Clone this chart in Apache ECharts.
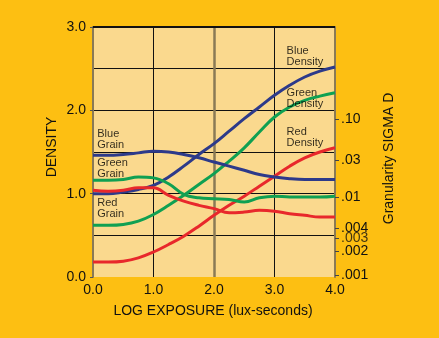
<!DOCTYPE html>
<html>
<head>
<meta charset="utf-8">
<script src="https://cdn.jsdelivr.net/npm/echarts@6/dist/echarts.min.js"></script>
<style>
  html, body { margin: 0; padding: 0; background: #FDBF12; }
  #chart { width: 439px; height: 338px; }
</style>
</head>
<body>
<div id="chart"></div>
<script>
// Log exposure (lux-seconds) sample points
const logExposure = [0, 0.25, 0.5, 0.75, 1.0, 1.25, 1.5, 1.75, 2.0, 2.25, 2.5, 2.75, 3.0, 3.25, 3.5, 3.75, 4.0];

// Characteristic curves (density)
const blueDensity  = [1.00, 1.00, 1.02, 1.05, 1.10, 1.20, 1.33, 1.47, 1.60, 1.75, 1.90, 2.04, 2.18, 2.30, 2.40, 2.47, 2.52];
const greenDensity = [0.62, 0.62, 0.63, 0.67, 0.75, 0.86, 0.98, 1.11, 1.24, 1.39, 1.55, 1.74, 1.92, 2.04, 2.12, 2.17, 2.21];
const redDensity   = [0.18, 0.18, 0.19, 0.23, 0.30, 0.39, 0.49, 0.61, 0.74, 0.86, 0.97, 1.09, 1.21, 1.33, 1.43, 1.50, 1.55];

// Granularity (sigma D)
const blueGrain  = [0.0342, 0.0342, 0.0351, 0.0368, 0.0387, 0.0378, 0.0351, 0.0318, 0.0281, 0.0249, 0.0220, 0.0194, 0.0181, 0.0172, 0.0168, 0.0168, 0.0168];
const greenGrain = [0.0164, 0.0164, 0.0168, 0.0181, 0.0176, 0.0148, 0.0108, 0.00976, 0.00952, 0.00929, 0.00863, 0.00976, 0.01025, 0.0100, 0.0100, 0.0100, 0.01025];
const redGrain   = [0.01218, 0.01188, 0.01218, 0.01311, 0.01311, 0.01050, 0.00884, 0.00782, 0.00709, 0.00627, 0.00642, 0.00675, 0.00658, 0.00612, 0.00582, 0.00554, 0.00554];

// Granularity axis ticks; .003 sits so close to .004 that it is drawn as a separate label
const sigmaTicks = [0.001, 0.002, 0.003, 0.004, 0.01, 0.03, 0.10];
const sigmaTickLabels = ['.001', '.002', '.003', '.004', '.01', '.03', '.10'];
const sigmaCrowded = [0.003];

// Curve captions: text and anchor (log exposure, density)
const noteText = ['Blue\nGrain', 'Green\nGrain', 'Red\nGrain', 'Blue\nDensity', 'Green\nDensity', 'Red\nDensity'];
const noteX = [0.07, 0.07, 0.07, 3.20, 3.20, 3.20];
const noteY = [1.654, 1.30, 0.818, 2.65, 2.14, 1.674];

const FONT = '"Liberation Sans", Arial, Helvetica, sans-serif';
const INK = '#111111';
const FRAME = '#8A7A55';
const BLUE = '#2D3A8A', GREEN = '#0FA052', RED = '#E8282B';

const pairs = (xs, ys) => xs.map((x, i) => [x, ys[i]]);
const logPairs = (xs, ys) => xs.map((x, i) => [x, Math.log10(ys[i])]);
const sigmaLogs = sigmaTicks.map(v => Math.log10(v));
const crowdedLogs = sigmaCrowded.map(v => Math.log10(v));
const mainLabelLogs = sigmaLogs.filter(v => !crowdedLogs.some(c => Math.abs(c - v) < 1e-9));
// nearest tick label for an axis value (tolerant of rounding inside the scale)
const sigmaLabel = v => {
  let best = -1, bestDist = 0.03;
  sigmaLogs.forEach((s, i) => {
    const d = Math.abs(s - v);
    if (d < bestDist) { bestDist = d; best = i; }
  });
  return best >= 0 ? sigmaTickLabels[best] : '';
};
const SIGMA_MIN = Math.log10(0.001) - 2 / 78;
const SIGMA_MAX = 0.18;
const X_MAX = logExposure[logExposure.length - 1];

const chart = echarts.init(document.getElementById('chart'), null, { renderer: 'canvas' });

const curve = (name, data, color, yAxisIndex) => ({
  name, type: 'line', data, yAxisIndex,
  smooth: 0.4, showSymbol: false, silent: true, z: 3,
  lineStyle: { color, width: 3 }
});

const option = {
  backgroundColor: '#FDBF12',
  animation: false,
  textStyle: { fontFamily: FONT },
  grid: {
    left: 93, top: 27, width: 242, height: 250,
    show: true, backgroundColor: '#FAD98E', borderWidth: 0
  },
  xAxis: {
    type: 'value', min: 0, max: 4, interval: 1,
    axisLine: { show: false },
    axisTick: { show: false },
    axisLabel: { formatter: v => v.toFixed(1), margin: 6, fontSize: 14, color: INK, fontFamily: FONT },
    splitLine: { show: true, showMinLine: false, showMaxLine: false, lineStyle: { color: INK, width: 1 } }
  },
  yAxis: [
    {
      type: 'value', min: 0, max: 3, interval: 1, position: 'left',
      axisLine: { show: true, lineStyle: { color: FRAME, width: 2 } },
      axisTick: { show: true, length: 3, lineStyle: { color: '#555', width: 1 } },
      axisLabel: { formatter: v => v.toFixed(1), margin: 7, fontSize: 14, color: INK, fontFamily: FONT },
      splitLine: { show: true, showMinLine: false, lineStyle: { color: INK, width: 1 } },
      minorTick: { show: false, splitNumber: 2 },
      minorSplitLine: { show: true, lineStyle: { color: INK, width: 1 } }
    },
    {
      type: 'value', position: 'right', min: SIGMA_MIN, max: SIGMA_MAX,
      axisLine: { show: true, lineStyle: { color: FRAME, width: 2 } },
      axisTick: { show: true, length: 4, customValues: sigmaLogs, lineStyle: { color: '#444', width: 1 } },
      axisLabel: {
        customValues: mainLabelLogs, hideOverlap: false, margin: 6, fontSize: 14, color: INK, fontFamily: FONT,
        formatter: sigmaLabel
      },
      splitLine: { show: false }
    }
  ],
  graphic: [
    { type: 'text', x: 52, y: 147, rotation: Math.PI / 2,
      style: { text: 'DENSITY', fontSize: 14, fontFamily: FONT, fill: INK, textAlign: 'center', textVerticalAlign: 'middle', align: 'center', verticalAlign: 'middle' } },
    { type: 'text', x: 389, y: 158.5, rotation: Math.PI / 2,
      style: { text: 'Granularity SIGMA D', fontSize: 14, fontFamily: FONT, fill: INK, textAlign: 'center', textVerticalAlign: 'middle', align: 'center', verticalAlign: 'middle' } },
    { type: 'text', x: 213, y: 311,
      style: { text: 'LOG EXPOSURE (lux-seconds)', fontSize: 14, fontFamily: FONT, fill: INK, textAlign: 'center', textVerticalAlign: 'middle', align: 'center', verticalAlign: 'middle' } }
  ],
  series: [
    Object.assign(curve('Blue Density', pairs(logExposure, blueDensity), BLUE, 0), {
      markLine: {
        silent: true, symbol: 'none', z: 1, animation: false,
        label: { show: false },
        lineStyle: { color: FRAME, width: 2.5, type: 'solid' },
        data: [
          { xAxis: 2 },
          { yAxis: 3, lineStyle: { color: INK, width: 2, type: 'solid' } }
        ]
      }
    }),
    curve('Green Density', pairs(logExposure, greenDensity), GREEN, 0),
    curve('Red Density', pairs(logExposure, redDensity), RED, 0),
    curve('Blue Grain', logPairs(logExposure, blueGrain), BLUE, 1),
    curve('Green Grain', logPairs(logExposure, greenGrain), GREEN, 1),
    curve('Red Grain', logPairs(logExposure, redGrain), RED, 1),
    {
      // crowded granularity tick label, placed on the right axis through its scale
      name: 'sigma-crowded', type: 'scatter', yAxisIndex: 1, symbolSize: 0, silent: true, z: 5,
      data: crowdedLogs.map(v => ({ value: [X_MAX, v] })),
      label: {
        show: true, position: 'right', distance: 6,
        formatter: p => sigmaLabel(p.value[1]),
        fontSize: 14, color: INK, fontFamily: FONT, align: 'left', verticalAlign: 'middle'
      }
    },
    {
      name: 'captions', type: 'scatter', yAxisIndex: 0, symbolSize: 0, silent: true, z: 4,
      data: noteText.map((t, i) => ({ name: t, value: [noteX[i], noteY[i]] })),
      label: {
        show: true, position: 'right', distance: 0, formatter: '{b}',
        fontSize: 11, lineHeight: 11, color: '#000', fontFamily: FONT,
        align: 'left', verticalAlign: 'middle'
      }
    }
  ]
};

chart.setOption(option);
</script>
</body>
</html>
